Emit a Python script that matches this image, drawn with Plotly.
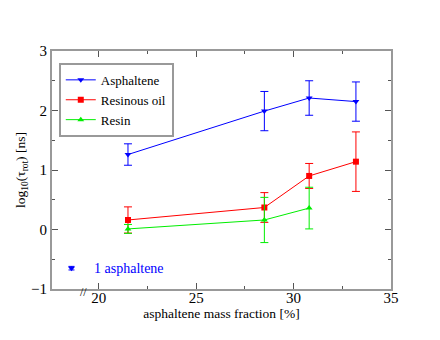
import plotly.graph_objects as go

x_asph = [21.5, 28.5, 30.8, 33.2]
y_asph = [1.26, 1.99, 2.21, 2.15]
e_asph = [0.18, 0.33, 0.29, 0.33]

x_oil = [21.5, 28.5, 30.8, 33.2]
y_oil = [0.16, 0.37, 0.90, 1.14]
e_oil = [0.22, 0.25, 0.21, 0.50]

x_resin = [21.5, 28.5, 30.8]
y_resin = [0.01, 0.16, 0.36]
e_resin = [0.075, 0.38, 0.35]

x_single = [18.6]
y_single = [-0.65]
e_single = [0.03]

font_family = "Liberation Serif"

fig = go.Figure()

def add(xs, ys, es, name, color, symbol, size):
    fig.add_trace(go.Scatter(
        x=xs, y=ys, name=name, mode="lines+markers",
        line=dict(color=color, width=1),
        marker=dict(color=color, symbol=symbol, size=size),
        error_y=dict(type="data", array=es, visible=True, color=color, thickness=1, width=4),
    ))

add(x_asph, y_asph, e_asph, "Asphaltene", "#0000ff", "triangle-down", 6)
add(x_oil, y_oil, e_oil, "Resinous oil", "#ff0000", "square", 6)
add(x_resin, y_resin, e_resin, "Resin", "#00ee00", "triangle-up", 6)

fig.add_trace(go.Scatter(
    x=x_single, y=y_single, mode="markers", showlegend=False,
    marker=dict(color="#0000ff", symbol="triangle-down", size=6),
    error_y=dict(type="data", array=e_single, visible=True, color="#0000ff", thickness=1, width=3),
))

fig.add_annotation(x=0.118, y=-0.65, xref="paper", yref="y", text="1 asphaltene",
                   showarrow=False, xanchor="left", yanchor="middle",
                   font=dict(color="#0000ff", size=14, family=font_family))
fig.add_annotation(x=0.094, y=-0.012, xref="paper", yref="paper", text="//",
                   showarrow=False, xanchor="center", yanchor="middle",
                   font=dict(color="#000000", size=12, family=font_family))

axis_common = dict(
    showline=True, linecolor="#999999", linewidth=2, mirror="ticks",
    ticks="inside", ticklen=6, tickcolor="#555555", tickwidth=1,
    showgrid=False, zeroline=False, automargin=False,
    tickfont=dict(size=15, family=font_family, color="#000000"),
)

fig.update_xaxes(range=[17.6, 35], dtick=5, tick0=20, ticklabelstandoff=-6,
                 minor=dict(ticks="inside", dtick=2.5, tick0=20, ticklen=3, tickcolor="#555555"),
                 title=dict(text="asphaltene mass fraction [%]", standoff=2,
                            font=dict(size=13.5, family=font_family, color="#000000")),
                 **axis_common)
fig.update_yaxes(range=[-1, 3], dtick=1,
                 minor=dict(ticks="inside", dtick=0.5, ticklen=3, tickcolor="#555555"),
                 title=dict(text="log<sub>10</sub>(τ<sub>rot</sub>) [ns]", standoff=2,
                            font=dict(size=13.5, family=font_family, color="#000000")),
                 **axis_common)

fig.update_layout(
    width=440, height=340,
    margin=dict(l=44, r=57, t=43, b=59),
    paper_bgcolor="white", plot_bgcolor="white",
    font=dict(family=font_family),
    legend=dict(x=0.02, y=0.95, xanchor="left", yanchor="top",
                bordercolor="#999999", borderwidth=2, bgcolor="white",
                font=dict(size=13, family=font_family, color="#000000"),
                tracegroupgap=0, itemwidth=30),
)

fig.write_html("out.html")
